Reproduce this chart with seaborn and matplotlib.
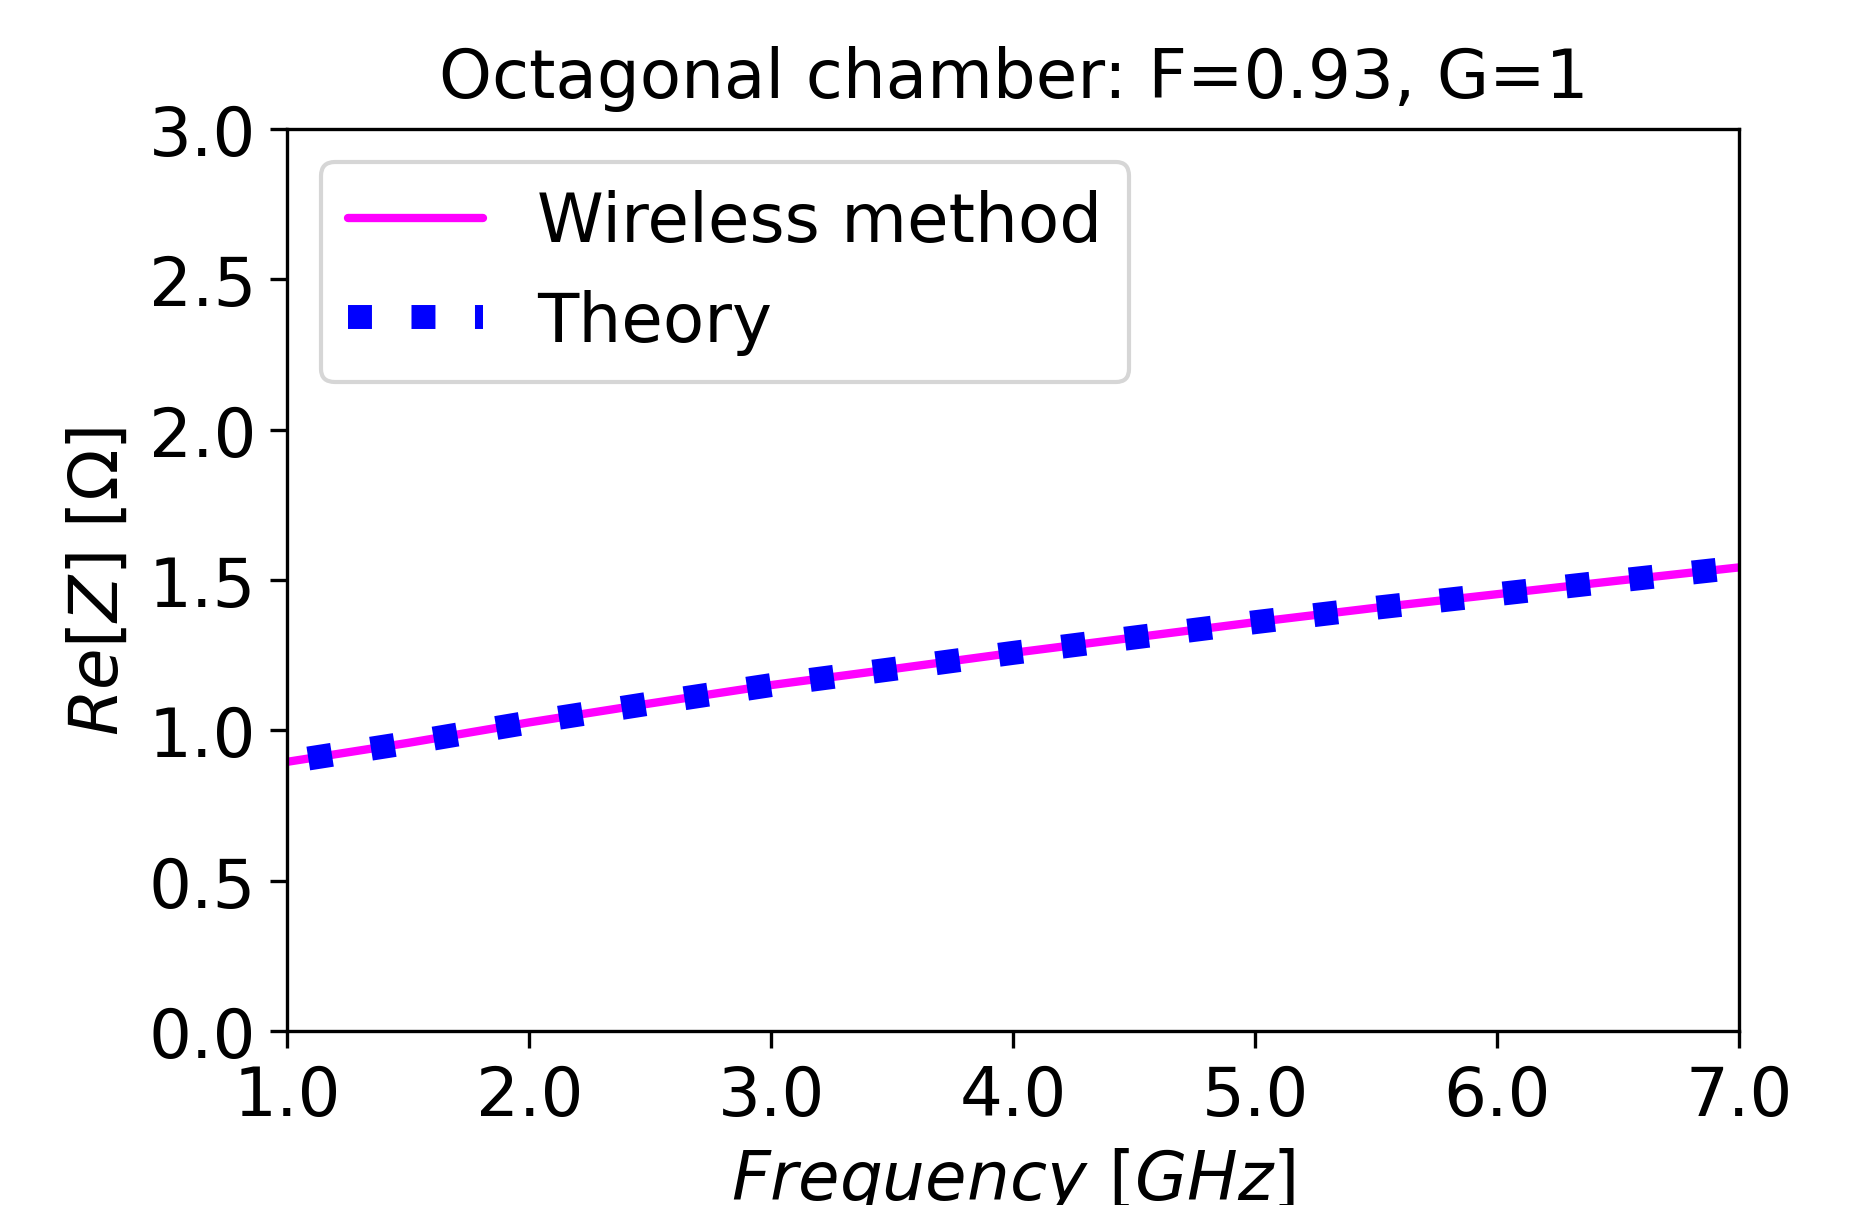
import numpy as np
import pandas as pd
import seaborn as sns
import matplotlib.pyplot as plt

# values
freq_ghz = [1.0, 1.5, 2.0, 2.5, 3.0, 3.5, 4.0, 4.5, 5.0, 5.5, 6.0, 6.5, 7.0]
re_z_wireless = [0.896, 0.959, 1.027, 1.090, 1.151, 1.204, 1.258, 1.309, 1.360, 1.408, 1.453, 1.498, 1.542]
re_z_theory = [0.896, 0.959, 1.027, 1.090, 1.151, 1.204, 1.258, 1.309, 1.360, 1.408, 1.453, 1.498, 1.542]
x_ticks = [1.0, 2.0, 3.0, 4.0, 5.0, 6.0, 7.0]
y_ticks = [0.0, 0.5, 1.0, 1.5, 2.0, 2.5, 3.0]

df_w = pd.DataFrame({'freq': freq_ghz, 'rez': re_z_wireless})
df_t = pd.DataFrame({'freq': freq_ghz, 'rez': re_z_theory})

sns.set_style('ticks')
plt.rcParams['font.family'] = ['DejaVu Sans']
plt.rcParams['mathtext.fontset'] = 'dejavusans'
for k in ['text.color', 'axes.labelcolor', 'xtick.color', 'ytick.color', 'axes.edgecolor']:
    plt.rcParams[k] = 'black'

fs = 16.2
fig = plt.figure(figsize=(6.21, 4.02), dpi=300)
ax = fig.add_axes([0.1543, 0.1439, 0.9337 - 0.1543, 0.8926 - 0.1439])

sns.lineplot(x='freq', y='rez', data=df_w, ax=ax, color='#ff00ff', linewidth=2,
             label='Wireless method')
sns.lineplot(x='freq', y='rez', data=df_t, ax=ax, color='#0000ff', linewidth=5.75,
             linestyle=(1.77, (1, 1.65)), label='Theory')

ax.set_xlim(1.0, 7.0)
ax.set_ylim(0.0, 3.0)
ax.set_xticks(x_ticks)
ax.set_xticklabels([f'{v:.1f}' for v in x_ticks])
ax.set_yticks(y_ticks)
ax.set_yticklabels([f'{v:.1f}' for v in y_ticks])
ax.tick_params(labelsize=fs, length=4, width=0.8)
for s in ax.spines.values():
    s.set_visible(True)
    s.set_linewidth(0.8)

ax.set_title('Octagonal chamber: F=0.93, G=1', fontsize=fs, pad=7.5)
ax.set_xlabel(r'$Frequency\ [GHz]$', fontsize=fs)
ax.set_ylabel(r'$Re[Z]$ [$\Omega$]', fontsize=fs)

leg = ax.legend(loc='upper left', fontsize=fs, frameon=True, fancybox=True,
                edgecolor='0.8', framealpha=0.8)
leg.get_lines()[1].set_linestyle(':')

plt.savefig('out.png', dpi=300)
